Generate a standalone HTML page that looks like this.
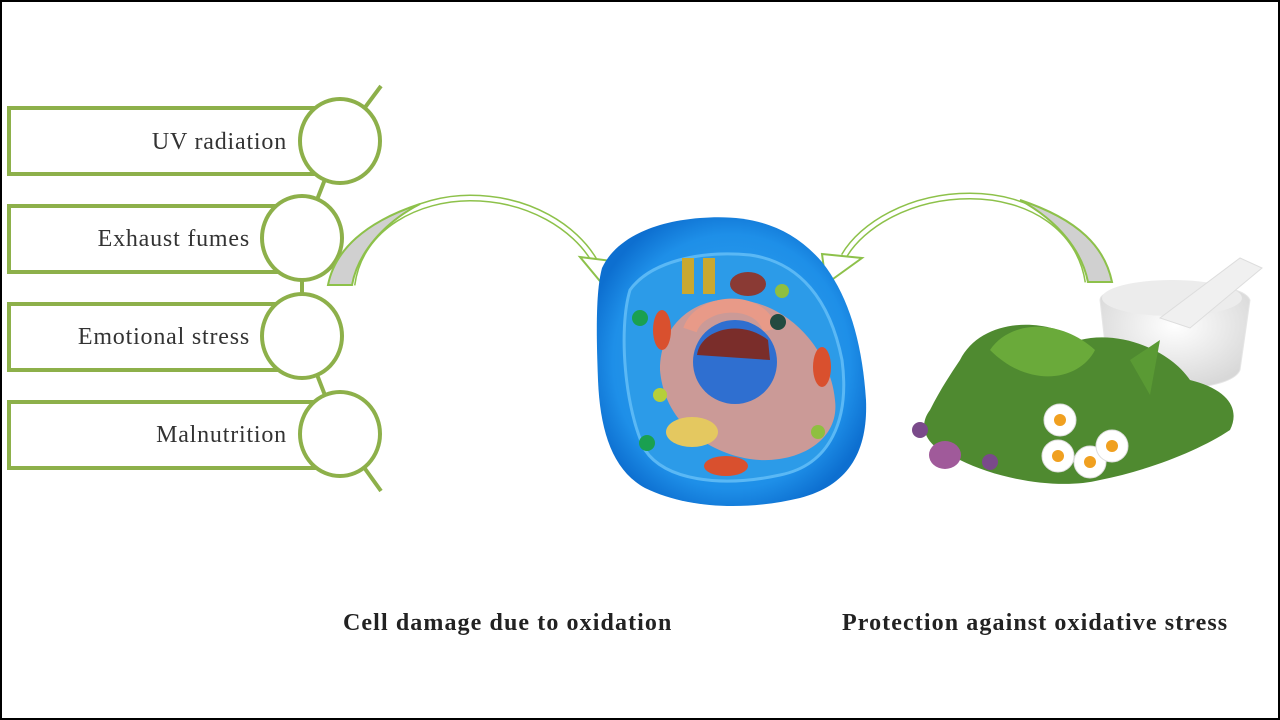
<!DOCTYPE html>
<html><head><style>
html,body{margin:0;padding:0;background:#fff}
.wrap{width:1280px;height:720px;position:relative;box-sizing:border-box;border:2px solid #000;background:#fff;overflow:hidden}
svg{position:absolute;left:0;top:0}
</style></head><body><div class="wrap">
<svg width="1280" height="720" viewBox="0 0 1280 720" style="left:-2px;top:-2px">
<defs>
<radialGradient id="cg" cx="50%" cy="50%" r="55%"><stop offset="0" stop-color="#3aa8f0"/><stop offset="0.8" stop-color="#1e8fe8"/><stop offset="1" stop-color="#0d6fd0"/></radialGradient>
<radialGradient id="mg" cx="50%" cy="40%" r="60%"><stop offset="0" stop-color="#ffffff"/><stop offset="1" stop-color="#d8d8d8"/></radialGradient>
</defs>
<g fill="none" stroke="#8db04a" stroke-width="4">
<line x1="381" y1="86" x2="340" y2="141"/><line x1="340" y1="141" x2="302" y2="238"/><line x1="302" y1="238" x2="302" y2="336"/><line x1="302" y1="336" x2="340" y2="434"/><line x1="340" y1="434" x2="381" y2="491"/>
</g>
<g fill="#fff" stroke="#8db04a" stroke-width="4">
<rect x="9" y="108" width="330" height="66"/><rect x="9" y="206" width="292" height="66"/><rect x="9" y="304" width="292" height="66"/><rect x="9" y="402" width="330" height="66"/>
<ellipse cx="340" cy="141" rx="40" ry="42"/><ellipse cx="302" cy="238" rx="40" ry="42"/><ellipse cx="302" cy="336" rx="40" ry="42"/><ellipse cx="340" cy="434" rx="40" ry="42"/>
</g>
<g font-family="Liberation Serif, serif" font-size="24" letter-spacing="0.8" fill="#333" text-anchor="end">
<text x="287" y="149">UV radiation</text><text x="250" y="246">Exhaust fumes</text><text x="250" y="344">Emotional stress</text><text x="287" y="442">Malnutrition</text>
</g>
<path d="M352,285 C360,225 420,198 470,198 C530,198 575,228 594,260" fill="none" stroke="#8dc14a" stroke-width="7"/>
<path d="M352,285 C360,225 420,198 470,198 C530,198 575,228 594,260" fill="none" stroke="#fff" stroke-width="4"/>
<path d="M328,285 C335,250 365,222 420,204 C385,222 358,252 352,285 Z" fill="#d0d0d0" stroke="#8dc14a" stroke-width="2"/>
<polygon points="580,257 620,262 604,286" fill="#fff" stroke="#8dc14a" stroke-width="2"/>
<path d="M1088,282 C1080,228 1030,196 970,196 C910,196 862,225 844,256" fill="none" stroke="#8dc14a" stroke-width="7"/>
<path d="M1088,282 C1080,228 1030,196 970,196 C910,196 862,225 844,256" fill="none" stroke="#fff" stroke-width="4"/>
<path d="M1112,282 C1105,248 1080,220 1020,200 C1060,222 1082,252 1088,282 Z" fill="#d0d0d0" stroke="#8dc14a" stroke-width="2"/>
<polygon points="822,254 862,258 826,284" fill="#fff" stroke="#8dc14a" stroke-width="2"/>
<path d="M602,268 C615,240 650,222 700,218 C750,214 790,225 822,262 C848,295 862,340 866,400 C868,450 850,485 800,498 C750,510 690,510 645,488 C612,470 600,430 598,380 C596,330 596,290 602,268 Z" fill="url(#cg)"/>
<path d="M630,290 C650,262 700,250 750,255 C800,262 830,300 842,360 C850,420 830,465 780,475 C720,488 665,480 645,450 C625,410 618,330 630,290 Z" fill="#2c9be8" stroke="#5ab8f5" stroke-width="3"/>
<path d="M660,370 C660,320 700,295 740,300 C790,305 830,350 835,400 C840,440 800,462 760,460 C720,458 665,430 660,370Z" fill="#e89a88" opacity="0.85"/>
<path d="M690,330 C700,300 760,295 770,330" fill="none" stroke="#e89a88" stroke-width="14"/>
<circle cx="735" cy="362" r="42" fill="#2f6fd0"/>
<path d="M697,355 C700,330 740,318 768,340 L770,360 Z" fill="#7a2d2a"/>
<rect x="682" y="258" width="12" height="36" fill="#c9a830"/><rect x="703" y="258" width="12" height="36" fill="#c9a830"/>
<ellipse cx="748" cy="284" rx="18" ry="12" fill="#8a3a34"/>
<ellipse cx="662" cy="330" rx="9" ry="20" fill="#d9502e"/><ellipse cx="822" cy="367" rx="9" ry="20" fill="#d9502e"/><ellipse cx="726" cy="466" rx="22" ry="10" fill="#d9502e"/>
<circle cx="640" cy="318" r="8" fill="#1aa050"/><circle cx="647" cy="443" r="8" fill="#1aa050"/><circle cx="782" cy="291" r="7" fill="#8fbf40"/><circle cx="818" cy="432" r="7" fill="#8fbf40"/><circle cx="660" cy="395" r="7" fill="#b5cf3a"/><circle cx="778" cy="322" r="8" fill="#224a40"/>
<ellipse cx="692" cy="432" rx="26" ry="15" fill="#e4c860"/>
<path d="M1100,300 C1100,280 1240,275 1250,300 L1240,370 C1230,395 1115,395 1108,370 Z" fill="url(#mg)" stroke="#e6e6e6"/>
<ellipse cx="1172" cy="298" rx="70" ry="18" fill="#ececec"/>
<path d="M1160,318 L1240,258 L1262,268 L1190,328 Z" fill="#f0f0f0" stroke="#ddd"/>
<path d="M960,360 C980,320 1040,315 1080,340 C1120,330 1170,350 1190,380 C1230,390 1240,410 1230,430 C1200,450 1150,470 1100,480 C1060,490 1000,480 960,460 C930,450 915,430 930,410 C940,390 950,375 960,360Z" fill="#4f8a30"/>
<path d="M990,350 C1010,320 1060,318 1095,350 C1080,380 1030,390 990,350Z" fill="#6aaa3a"/>
<path d="M1130,360 L1160,340 L1150,395 Z" fill="#5a9a34"/>
<ellipse cx="945" cy="455" rx="16" ry="14" fill="#a05a9a"/><ellipse cx="920" cy="430" rx="8" ry="8" fill="#7a4a8a"/><ellipse cx="990" cy="462" rx="8" ry="8" fill="#7a4a8a"/>
<g fill="#fff" stroke="#ddd"><circle cx="1060" cy="420" r="16"/><circle cx="1058" cy="456" r="16"/><circle cx="1090" cy="462" r="16"/><circle cx="1112" cy="446" r="16"/></g>
<g fill="#f0a020"><circle cx="1060" cy="420" r="6"/><circle cx="1058" cy="456" r="6"/><circle cx="1090" cy="462" r="6"/><circle cx="1112" cy="446" r="6"/></g>
<g font-family="Liberation Serif, serif" font-size="24" font-weight="bold" letter-spacing="1.1" fill="#222">
<text x="343" y="630">Cell damage due to oxidation</text><text x="842" y="630">Protection against oxidative stress</text>
</g>
</svg>
</div></body></html>
